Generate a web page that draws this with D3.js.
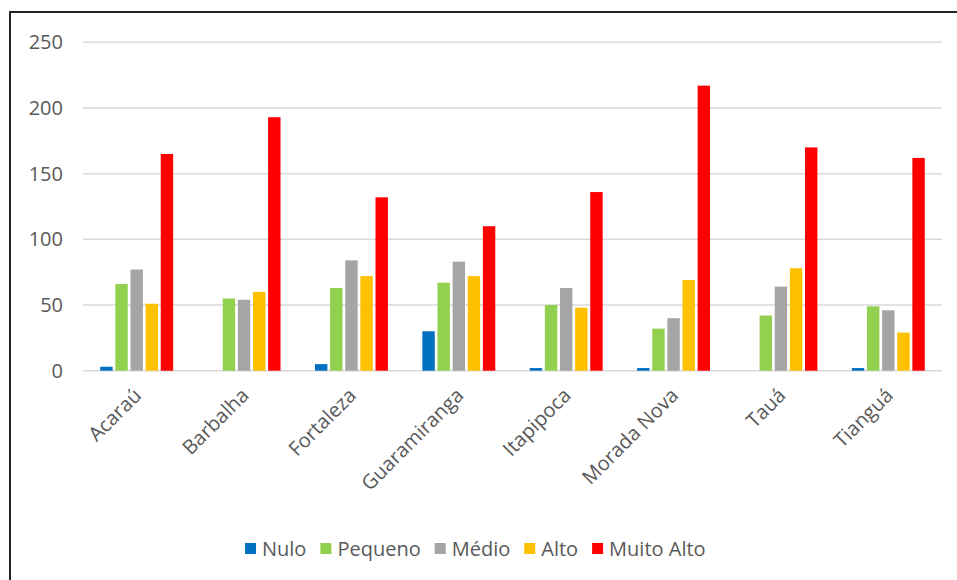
<!DOCTYPE html>
<html>
<head>
<meta charset="utf-8">
<script src="https://cdn.jsdelivr.net/npm/d3@7"></script>
<style>
  body { margin: 0; background: #fff; }
  svg { display: block; font-family: "Open Sans", "Liberation Sans", sans-serif; }
</style>
</head>
<body>
<div id="graph"></div>
<script>
// Chart data
const cities = ["Acaraú", "Barbalha", "Fortaleza", "Guaramiranga", "Itapipoca", "Morada Nova", "Tauá", "Tianguá"];
const seriesNames = ["Nulo", "Pequeno", "Médio", "Alto", "Muito Alto"];
const nulo = [3, 0, 5, 30, 2, 2, 0, 2];
const pequeno = [66, 55, 63, 67, 50, 32, 42, 49];
const medio = [77, 54, 84, 83, 63, 40, 64, 46];
const alto = [51, 60, 72, 72, 48, 69, 78, 29];
const muitoAlto = [165, 193, 132, 110, 136, 217, 170, 162];
const yTicks = [0, 50, 100, 150, 200, 250];

const colors = ["#0070C0", "#92D050", "#A5A5A5", "#FFC000", "#FF0000"];
const allSeries = [nulo, pequeno, medio, alto, muitoAlto];

drawChart();

function drawChart() {
  const w = 957;
  const h = 580;
  const left = 83, right = 942, top = 42.3, bottom = 370.7;

  const svg = d3.select("#graph")
    .append("svg")
    .attr("width", w)
    .attr("height", h);

  // frame
  svg.append("rect")
    .attr("x", 10)
    .attr("y", 12)
    .attr("width", w + 20)
    .attr("height", h + 20)
    .attr("fill", "none")
    .attr("stroke", "#222")
    .attr("stroke-width", 2);

  // Scales
  const x = d3.scaleBand()
    .domain(cities)
    .range([left, right])
    .paddingInner(0.27)
    .paddingOuter(0.135);

  const xSub = d3.scaleBand()
    .domain(seriesNames)
    .range([0, x.bandwidth()])
    .padding(0.18);

  const y = d3.scaleLinear()
    .domain([0, 250])
    .range([bottom, top]);

  // Grid
  svg.append("g")
    .selectAll("line")
    .data(yTicks)
    .enter()
    .append("line")
    .attr("x1", left)
    .attr("x2", right)
    .attr("y1", (d) => y(d))
    .attr("y2", (d) => y(d))
    .attr("stroke", "#d9d9d9")
    .attr("stroke-width", 1.5);

  // Y axis labels
  const yAxis = svg.append("g")
    .attr("transform", `translate(${left - 20},0)`)
    .call(d3.axisLeft(y).tickValues(yTicks).tickSize(0).tickPadding(0));
  yAxis.select(".domain").remove();
  yAxis.selectAll("text")
    .attr("fill", "#595959")
    .attr("font-size", 20)
    .attr("font-family", "'Open Sans', sans-serif");

  // Bars
  const groups = svg.append("g")
    .selectAll("g")
    .data(cities)
    .enter()
    .append("g")
    .attr("transform", (d) => `translate(${x(d)},0)`);

  groups.selectAll("rect")
    .data((d, i) => seriesNames.map((s, k) => ({ s: s, k: k, v: allSeries[k][i] })))
    .enter()
    .append("rect")
    .attr("x", (d) => xSub(d.s))
    .attr("y", (d) => y(d.v))
    .attr("width", xSub.bandwidth())
    .attr("height", (d) => bottom - y(d.v))
    .attr("fill", (d) => colors[d.k]);

  // X labels
  const xAxis = svg.append("g")
    .attr("transform", `translate(0,${bottom})`)
    .call(d3.axisBottom(x).tickSize(0).tickPadding(0));
  xAxis.select(".domain").remove();
  xAxis.selectAll("text")
    .attr("fill", "#595959")
    .attr("font-size", 20)
    .attr("font-family", "'Open Sans', sans-serif")
    .attr("text-anchor", "end")
    .attr("dy", 0)
    .attr("transform", "translate(6,26) rotate(-45)");

  // Legend
  const legend = svg.append("g")
    .attr("transform", "translate(245,549)");
  let lx = 0;
  seriesNames.forEach((s, k) => {
    const item = legend.append("g").attr("transform", `translate(${lx},0)`);
    item.append("rect")
      .attr("x", 0)
      .attr("y", -6)
      .attr("width", 11)
      .attr("height", 11)
      .attr("fill", colors[k]);
    const t = item.append("text")
      .attr("x", 17)
      .attr("y", 0)
      .attr("dy", "0.35em")
      .attr("fill", "#595959")
      .attr("font-size", 20)
      .text(s);
    lx += 17 + t.node().getComputedTextLength() + 14;
  });
}
</script>
</body>
</html>
